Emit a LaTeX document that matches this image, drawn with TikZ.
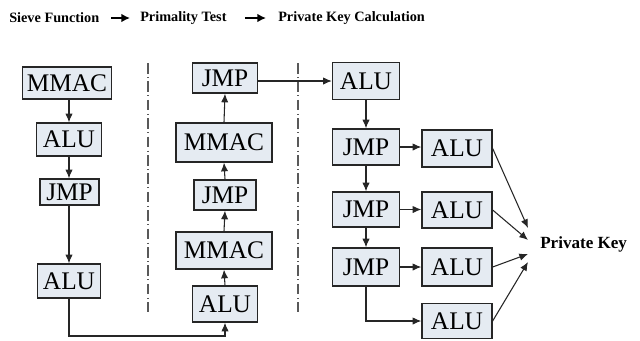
\documentclass[tikz,border=0pt]{standalone}
\usepackage{fontspec}
\setmainfont{Liberation Serif}
\usetikzlibrary{arrows.meta,calc}
\definecolor{boxfill}{HTML}{E5EBF2}
\definecolor{boxline}{HTML}{262626}
\tikzset{
  box/.style={draw=boxline, fill=boxfill, line width=1pt, inner sep=0pt,
    font=\fontsize{19}{21}\selectfont, text height=12.6pt, text depth=0pt, align=center},
  sz/.style 2 args={minimum width=#1*0.75pt, minimum height=#2*0.75pt},
  arr/.style={draw=black!85, line width=0.8pt, -{Latex[length=6.5pt,width=5.5pt]}},
  conn/.style={draw=black!85, line width=0.8pt},
  titletext/.style={font=\fontsize{10.7}{12}\selectfont\bfseries, inner sep=0pt, anchor=west},
  titlearr/.style={line width=1.2pt, -{Latex[length=6.5pt,width=6.5pt]}},
  divider/.style={draw=black!65, line width=0.9pt, dash pattern=on 8pt off 2.5pt on 0.8pt off 2.5pt},
}
\begin{document}
\begin{tikzpicture}[x=0.75pt,y=-0.75pt]
\useasboundingbox (0,0) rectangle (640,340);

% title
\node[titletext] (t1) at (9,18) {Sieve Function};
\node[titletext] (t2) at (140,18) {Primality Test};
\node[titletext] (t3) at (278,18) {Private Key Calculation};
\draw[titlearr] ($(t1.east)+(12,0)$) -- ($(t2.west)+(-10,0)$);
\draw[titlearr] ($(t2.east)+(18,0)$) -- ($(t3.west)+(-12,0)$);

% dividers
\draw[divider] (148,63) -- (148,312);
\draw[divider] (298,63) -- (298,312);

% left column
\node[box, sz={89}{32}] (l1) at (67,83) {MMAC};
\node[box, sz={65}{33}] (l2) at (69,139.5) {ALU};
\node[box, sz={59}{26}] (l3) at (69.5,192) {JMP};
\node[box, sz={63}{34}] (l4) at (69,281) {ALU};

% middle column
\node[box, sz={65}{30}] (m1) at (225,78) {JMP};
\node[box, sz={96}{39}] (m2) at (224,142.5) {MMAC};
\node[box, sz={62}{30}] (m3) at (225,195) {JMP};
\node[box, sz={96}{37}] (m4) at (224,250.5) {MMAC};
\node[box, sz={65}{36}] (m5) at (225,304) {ALU};

% right column
\node[box, sz={67}{37}] (r0) at (366,81) {ALU};
\node[box, sz={67}{36}] (r1) at (366,147) {JMP};
\node[box, sz={67}{35}] (r2) at (366,209.5) {JMP};
\node[box, sz={67}{38}] (r3) at (366,267) {JMP};
\node[box, sz={70}{37}] (a1) at (457,148.5) {ALU};
\node[box, sz={70}{36}] (a2) at (457,210) {ALU};
\node[box, sz={70}{38}] (a3) at (457,267) {ALU};
\node[box, sz={70}{35}] (a4) at (457,321) {ALU};

\node[font=\fontsize{12.8}{14}\selectfont\bfseries, inner sep=0pt, anchor=west] (pk) at (540,244) {Private Key};

\coordinate (bot) at (0,336);
\coordinate (k1) at (528,228);
\coordinate (k2) at (528,240);
\coordinate (k3) at (528,254);
\coordinate (k4) at (528,262);

% left connectors
\draw[arr] (l1.south -| l2.north) -- (l2.north);
\draw[arr] (l2.south) -- (l3.north -| l2.south);
\draw[arr] (l3.south -| l4.north) -- (l4.north);
\draw[arr] (l4.south) -- (l4.south |- bot) -| (m5.south);

% middle connectors
\draw[arr] (m5.north) -- (m4.south);
\draw[arr] (m4.north) -- (m3.south);
\draw[arr] (m3.north) -- (m2.south);
\draw[arr] (m2.north) -- (m1.south);
\draw[arr] (m1.east |- r0.west) -- (r0.west);

% right connectors
\draw[arr] (r0.south) -- (r1.north);
\draw[arr] (r1.south) -- (r2.north);
\draw[arr] (r2.south) -- (r3.north);
\draw[arr] (r1.east) -- (a1.west |- r1.east);
\draw[arr] (r2.east) -- (a2.west |- r2.east);
\draw[arr] (r3.east) -- (a3.west |- r3.east);
\draw[arr] (r3.south) |- (a4.west);

\draw[arr] (a1.east) -- (k1);
\draw[arr] (a2.east) -- (k2);
\draw[arr] (a3.east) -- (k3);
\draw[arr] (a4.east) -- (k4);
\end{tikzpicture}
\end{document}
